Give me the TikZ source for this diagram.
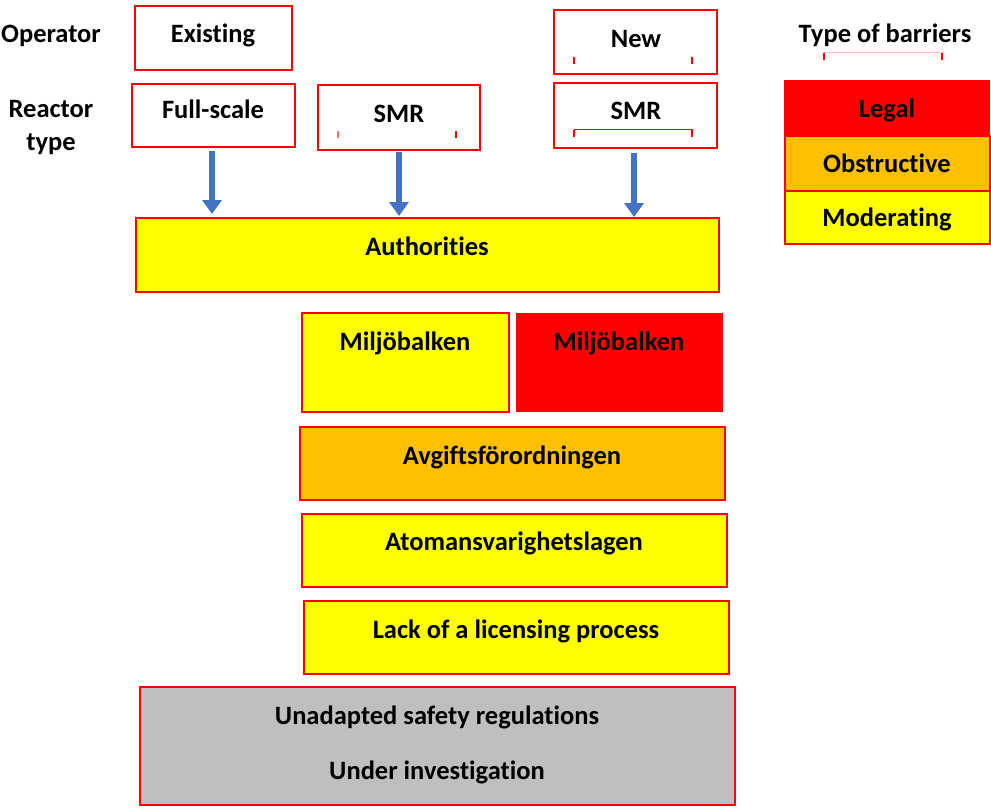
\documentclass[tikz,border=0pt]{standalone}
\usepackage{fontspec}
\setmainfont{Carlito}[Ligatures={NoCommon}]
\usetikzlibrary{arrows.meta}
\definecolor{bred}{HTML}{FF0000}
\definecolor{byel}{HTML}{FFFF00}
\definecolor{bora}{HTML}{FFC000}
\definecolor{bgry}{HTML}{BFBFBF}
\definecolor{bblu}{HTML}{4472C4}
\tikzset{
  box/.style={draw=bred, line width=1.8pt, rectangle, inner sep=0pt, outer sep=0pt},
  txt/.style={font=\fontsize{26.5}{33}\selectfont\bfseries, anchor=base, inner sep=0pt},
  tick/.style={draw=bred, line width=1.2pt},
  flow/.style={draw=bblu, line width=6.5pt, -{Triangle[width=19pt,length=14pt]}},
}
\newcommand{\bx}[6]{% name, x1,y1,x2,y2, fill
  \node[box, fill=#6, minimum width=#4pt-#2pt, minimum height=#5pt-#3pt] (#1) at ({(#2+#4)/2},{(#3+#5)/2}) {};}
\begin{document}
\begin{tikzpicture}[x=1pt,y=-1pt]
\useasboundingbox (0,0) rectangle (991,807);
% top boxes
\bx{exist}{135}{6}{292}{70}{white}
\bx{full}{132}{84}{295}{147}{white}
\bx{smra}{318}{85}{480}{150}{white}
\bx{new}{554}{10}{717}{74}{white}
\bx{smrb}{554}{83}{717}{148}{white}
% main boxes
\bx{auth}{136}{218}{719}{292}{byel}
\bx{milja}{302}{313}{509}{412}{byel}
\node[rectangle, fill=bred, minimum width=207pt, minimum height=99pt, inner sep=0pt] (miljb) at (619.5,362.5) {};
\bx{avg}{300}{427}{725}{500}{bora}
\bx{atom}{302}{514}{727}{587}{byel}
\bx{lack}{304}{601}{729}{674}{byel}
\bx{unad}{140}{687}{735}{805}{bgry}
% legend
\node[rectangle, fill=bred, minimum width=206pt, minimum height=56pt, inner sep=0pt] (legal) at (887,108) {};
\bx{obst}{785}{136}{990}{191}{bora}
\bx{mode}{785}{191}{990}{244}{byel}
% texts
\node[txt] (t-op) at (51,42) {Operator};
\node[txt, align=center, anchor=center] (t-rt) at (51,127) {Reactor\\type};
\node[txt] (t-ex) at (213,42) {Existing};
\node[txt] (t-fs) at (213,118) {Full-scale};
\node[txt] (t-sa) at (399,122) {SMR};
\node[txt] (t-nw) at (636,47) {New};
\node[txt] (t-sb) at (636,119) {SMR};
\node[txt] (t-tb) at (885,42) {Type of barriers};
\node[txt] (t-lg) at (887,117) {Legal};
\node[txt] (t-ob) at (887,172) {Obstructive};
\node[txt] (t-md) at (887,226) {Moderating};
\node[txt] (t-au) at (427,255) {Authorities};
\node[txt] (t-m1) at (405,350) {Miljöbalken};
\node[txt] (t-m2) at (619,350) {Miljöbalken};
\node[txt] (t-av) at (512,464) {Avgiftsförordningen};
\node[txt] (t-at) at (514,550) {Atomansvarighetslagen};
\node[txt] (t-lk) at (516,638) {Lack of a licensing process};
\node[txt] (t-un) at (437,724) {Unadapted safety regulations};
\node[txt] (t-ui) at (437,779) {Under investigation};
% small red ticks
\draw[tick, draw=bred!55] (338,131) -- (338,138);
\draw[tick] (456,131) -- (456,138);
\draw[tick] (574,57) -- (574,64);
\draw[tick] (692,57) -- (692,64);
\draw[draw=bred, line width=0.8pt] (574,137) -- (574,129) -- (692,129) -- (692,137);
\draw[tick] (574,130) -- (574,137);
\draw[tick] (692,130) -- (692,137);
\draw[draw=bred!25, line width=0.6pt] (824,52) -- (942,52);
\draw[tick] (824,53) -- (824,60);
\draw[tick] (942,53) -- (942,60);
% arrows
\coordinate (fa) at (212,151);
\coordinate (fb) at (212,214);
\draw[flow] (full.south -| fa) ++(0,4) -- (fb);
\draw[flow] (399,152) -- (399,216);
\draw[flow] (634,153) -- (634,217);
\end{tikzpicture}
\end{document}
